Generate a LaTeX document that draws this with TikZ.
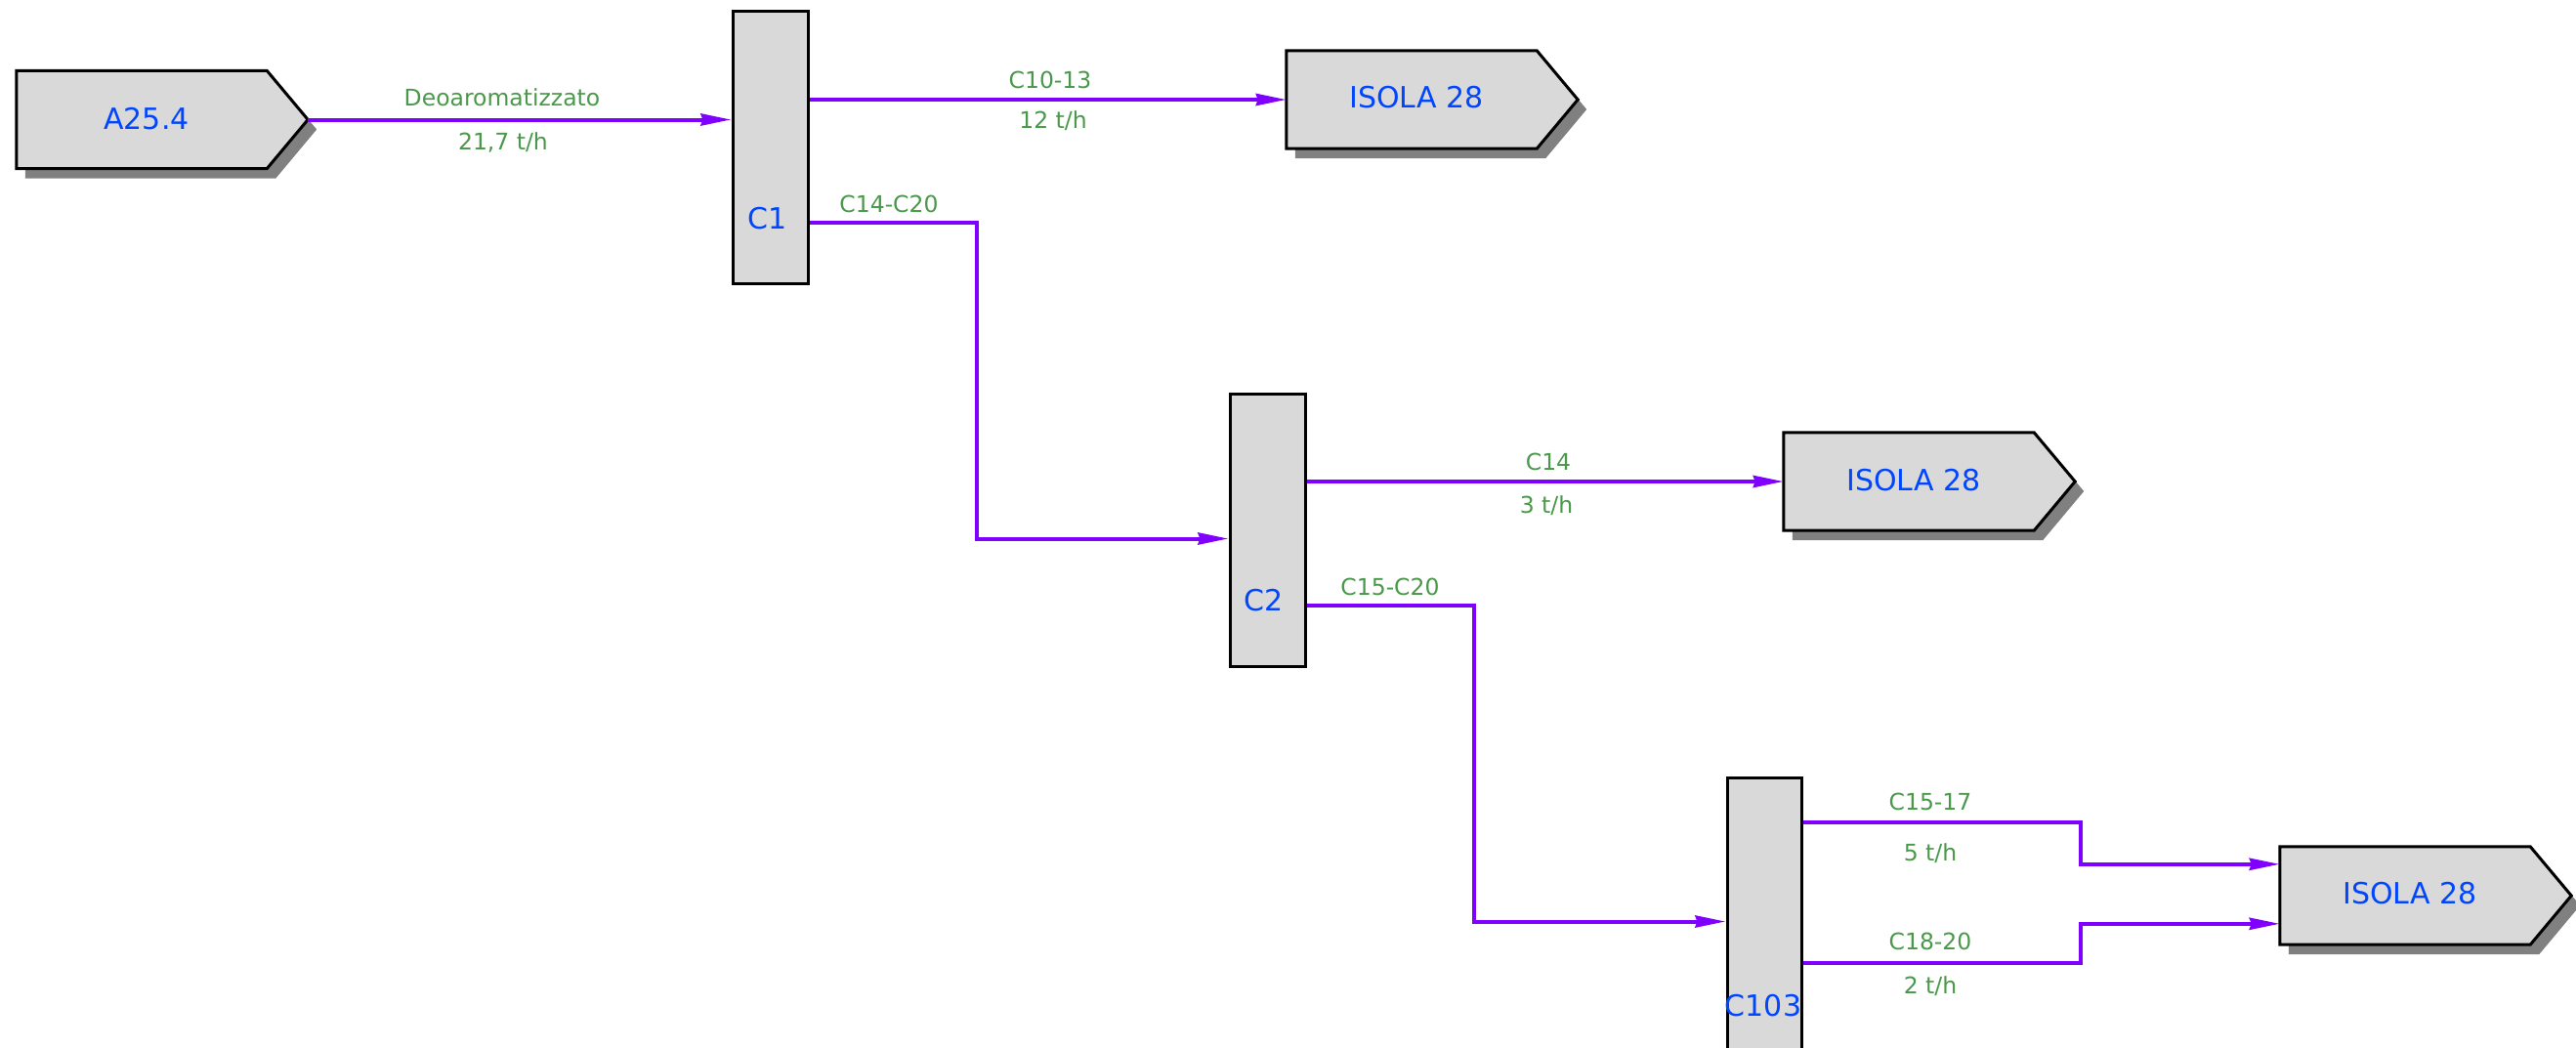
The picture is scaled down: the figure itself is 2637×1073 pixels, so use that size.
\documentclass[tikz,border=0pt]{standalone}
\usepackage{fontspec}
\setmainfont{DejaVu Sans}
\usetikzlibrary{arrows.meta,calc,backgrounds}
\definecolor{boxgray}{HTML}{D9D9D9}
\definecolor{shadowgray}{HTML}{808080}
\definecolor{flowpurple}{HTML}{8000FF}
\definecolor{nameblue}{HTML}{0046FF}
\definecolor{lblgreen}{HTML}{4A984A}
\tikzset{
  pentbody/.style={rectangle, minimum width=256pt, minimum height=100pt, inner sep=0pt},
  boxline/.style={draw=black, line width=3pt, fill=boxgray, line join=miter},
  column/.style={rectangle, draw=black, line width=3pt, fill=boxgray, inner sep=0pt},
  namelabel/.style={text=nameblue, font=\fontsize{30}{36}\selectfont, inner sep=0pt, text height=0.73em, text depth=0pt, yshift=-4pt},
  flowlabel/.style={text=lblgreen, font=\fontsize{23.5}{28}\selectfont, inner sep=0pt, text height=0.73em, text depth=0pt, yshift=-4pt},
  flow/.style={draw=flowpurple, line width=4pt, -{Stealth[length=31pt,width=12pt,inset=2pt]}}
}
\newcommand\PentNode[4]{%
  \node[pentbody] (#1) at (#2) {};
  \coordinate (#1tip) at ($(#1.east)+(42,0)$);
  \begin{scope}[on background layer]
    \fill[shadowgray] ($(#1.north west)+(9,10)$) -- ($(#1.north east)+(9,10)$) -- ($(#1tip)+(9,10)$) -- ($(#1.south east)+(9,10)$) -- ($(#1.south west)+(9,10)$) -- cycle;
    \path[boxline] (#1.north west) -- (#1.north east) -- (#1tip) -- (#1.south east) -- (#1.south west) -- cycle;
  \end{scope}
  \node[namelabel] (#1txt) at ($(#1.center)+(5,#3)$) {#4};
}
\begin{document}
\begin{tikzpicture}[x=1pt,y=-1pt]
\useasboundingbox (0,0) rectangle (2637,1073);

% source and destinations
\PentNode{a25}{145,122.5}{2}{A25.4}
\PentNode{iA}{1445,102}{1}{ISOLA 28}
\PentNode{iB}{1954,493}{2}{ISOLA 28}
\PentNode{iC}{2462,917}{1}{ISOLA 28}

% columns
\node[column, minimum width=77pt, minimum height=278pt] (c1) at (788.5,151) {};
\node[column, minimum width=77pt, minimum height=279pt] (c2) at (1297.5,542.5) {};
\node[column, minimum width=76pt, minimum height=278pt] (c103) at (1806,935) {};
\node[namelabel] (c1txt) at (786,227) {C1};
\node[namelabel] (c2txt) at (1294,618) {C2};
\node[namelabel] (c103txt) at (1805,1033) {C103};

% flows
\draw[flow] (a25tip) -- (a25tip -| c1.west);
\draw[flow] (iA.west -| c1.east) -- (iA.west);
\coordinate (c1out) at ($(c1.north east)+(0,217)$);
\draw[flow] (c1out) -- ++(171,0) |- ($(c2.north west)+(0,150)$);
\draw[flow] (iB.west -| c2.east) -- (iB.west);
\coordinate (c2out) at ($(c2.north east)+(0,218)$);
\draw[flow] (c2out) -- ++(171,0) |- ($(c103.north west)+(0,149)$);
\coordinate (c103a) at ($(c103.north east)+(0,47)$);
\coordinate (c103b) at ($(c103.north east)+(0,191)$);
\draw[flow] (c103a) -- ++(284,0) |- ($(iC.north west)+(0,18)$);
\draw[flow] (c103b) -- ++(284,0) |- ($(iC.north west)+(0,79)$);

% flow labels
\node[flowlabel] (l1a) at (514,101) {Deoaromatizzato};
\node[flowlabel] (l1b) at (515,146) {21,7 t/h};
\node[flowlabel] (l2a) at (1075,83) {C10-13};
\node[flowlabel] (l2b) at (1078,124) {12 t/h};
\node[flowlabel] (l3a) at (910,210) {C14-C20};
\node[flowlabel] (l4a) at (1585,474) {C14};
\node[flowlabel] (l4b) at (1583,518) {3 t/h};
\node[flowlabel] (l5a) at (1423,602) {C15-C20};
\node[flowlabel] (l6a) at (1976,822) {C15-17};
\node[flowlabel] (l6b) at (1976,874) {5 t/h};
\node[flowlabel] (l7a) at (1976,965) {C18-20};
\node[flowlabel] (l7b) at (1976,1010) {2 t/h};
\end{tikzpicture}
\end{document}
